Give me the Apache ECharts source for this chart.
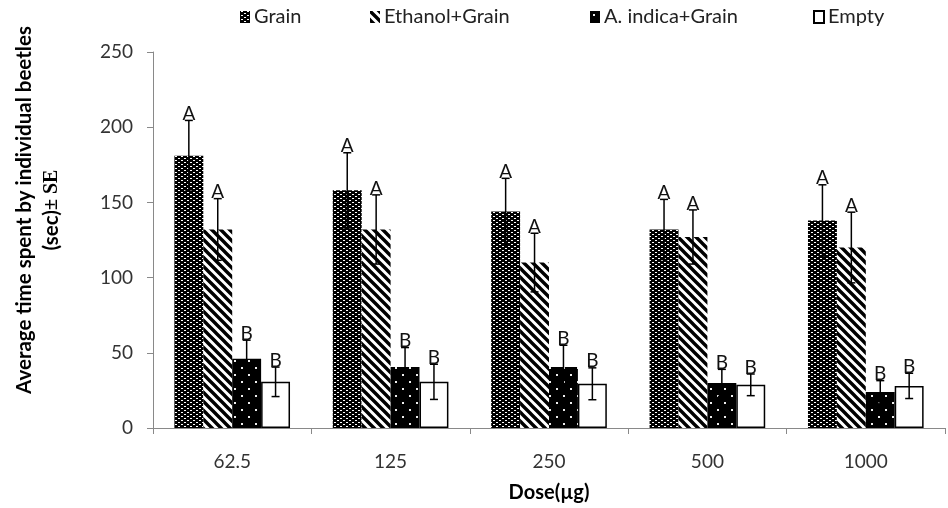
<!DOCTYPE html>
<html>
<head>
<meta charset="utf-8">
<script src="https://cdn.jsdelivr.net/npm/echarts@6/dist/echarts.min.js"></script>
<style>
  html, body { margin: 0; padding: 0; background: #fff; }
  #chart { width: 948px; height: 508px; }
</style>
</head>
<body>
<div id="chart"></div>
<script>
// Doses on the x axis
const doses = ['62.5', '125', '250', '500', '1000'];
const seriesNames = ['Grain', 'Ethanol+Grain', 'A. indica+Grain', 'Empty'];
const yTicks = [0, 50, 100, 150, 200, 250];

// Mean time (sec) and standard error for each treatment
const grain = [181, 158, 144, 132, 138];
const grainSE = [23.5, 25, 22, 20, 23.7];
const ethanolGrain = [132, 132, 110, 127, 120];
const ethanolGrainSE = [20.5, 23, 19.5, 18, 23.5];
const indicaGrain = [46, 40.5, 40.5, 30, 24];
const indicaGrainSE = [12.4, 13, 14.5, 9, 7.5];
const empty = [30.7, 30.7, 29.4, 28.7, 28];
const emptySE = [9.8, 11.7, 10.6, 7.2, 8.4];

// Significance letters shown above the error bars
const grainLetters = ['A', 'A', 'A', 'A', 'A'];
const ethanolGrainLetters = ['A', 'A', 'A', 'A', 'A'];
const indicaGrainLetters = ['B', 'B', 'B', 'B', 'B'];
const emptyLetters = ['B', 'B', 'B', 'B', 'B'];

const CAT_GAP = 0.27;

// ---- fill patterns ----
function tile(w, h, draw) {
  const c = document.createElement('canvas');
  c.width = w; c.height = h;
  draw(c.getContext('2d'));
  return c;
}
const grainTile = tile(6, 4, g => {
  g.fillStyle = '#000'; g.fillRect(0, 0, 6, 4);
  g.fillStyle = '#fff';
  g.fillRect(1, 0, 2, 1);
  g.fillRect(4, 2, 2, 1);
});
const ethanolTile = tile(9, 9, g => {
  g.fillStyle = '#fff'; g.fillRect(0, 0, 9, 9);
  g.strokeStyle = '#000'; g.lineWidth = 3.4;
  g.beginPath();
  [-9, 0, 9].forEach(k => { g.moveTo(k - 2, -2); g.lineTo(k + 11, 11); });
  g.stroke();
});
const indicaTile = tile(14, 14, g => {
  g.fillStyle = '#000'; g.fillRect(0, 0, 14, 14);
  g.fillStyle = '#eee';
  g.fillRect(3, 3, 2, 2);
  g.fillRect(10, 10, 2, 2);
});

const FONT = 'Lato, "Open Sans", sans-serif';

const groups = [
  { name: seriesNames[0], values: grain, se: grainSE, letters: grainLetters,
    itemStyle: { color: { image: grainTile, repeat: 'repeat' } } },
  { name: seriesNames[1], values: ethanolGrain, se: ethanolGrainSE, letters: ethanolGrainLetters,
    itemStyle: { color: { image: ethanolTile, repeat: 'repeat' } } },
  { name: seriesNames[2], values: indicaGrain, se: indicaGrainSE, letters: indicaGrainLetters,
    itemStyle: { color: { image: indicaTile, repeat: 'repeat' } } },
  { name: seriesNames[3], values: empty, se: emptySE, letters: emptyLetters,
    itemStyle: { color: '#fff', borderColor: '#000', borderWidth: 1.5 } }
];

// error bar rows: [category index, mean, se, series index]
const errRows = [];
const errLetters = [];
groups.forEach((s, si) => s.values.forEach((v, ci) => {
  errRows.push([ci, v, s.se[ci], si]);
  errLetters.push(s.letters[ci]);
}));

const barSeries = groups.map(s => ({
  name: s.name,
  type: 'bar',
  data: s.values,
  barGap: '0%',
  barCategoryGap: (CAT_GAP * 100) + '%',
  itemStyle: s.itemStyle,
  emphasis: { disabled: true }
}));

const errorSeries = {
  type: 'custom',
  data: errRows,
  encode: { x: 0, y: 1 },
  z: 10,
  silent: true,
  renderItem(params, api) {
    const ci = api.value(0), v = api.value(1), se = api.value(2), si = api.value(3);
    const catW = api.size([1, 0])[0];
    const bw = catW * (1 - CAT_GAP) / groups.length;
    const cx = api.coord([ci, v])[0] + (si - (groups.length - 1) / 2) * bw;
    const yTop = api.coord([ci, v + se])[1];
    const yBot = api.coord([ci, v - se])[1];
    const cap = 4;
    const ls = { stroke: '#000', lineWidth: 1.5 };
    return {
      type: 'group',
      children: [
        { type: 'line', shape: { x1: cx, y1: yTop, x2: cx, y2: yBot }, style: ls },
        { type: 'line', shape: { x1: cx - cap, y1: yTop, x2: cx + cap, y2: yTop }, style: ls },
        { type: 'line', shape: { x1: cx - cap, y1: yBot, x2: cx + cap, y2: yBot }, style: ls },
        { type: 'text', style: {
            text: errLetters[params.dataIndex], x: cx, y: yTop + 3,
            align: 'center', verticalAlign: 'bottom',
            fontSize: 19, fontFamily: FONT, fill: '#111' } }
      ]
    };
  }
};

// one legend entry per series, placed along the top row
const legendLeft = [240, 370, 590, 813];
const legends = seriesNames.map((n, i) => ({
  data: [n],
  top: 7,
  left: legendLeft[i],
  padding: 0,
  icon: 'rect',
  itemWidth: 10,
  itemHeight: 12,
  textStyle: { fontSize: 20, fontFamily: FONT, color: '#222', padding: [0, 0, 0, -1] },
  selectedMode: false
}));

const chart = echarts.init(document.getElementById('chart'), null, { renderer: 'canvas' });
chart.setOption({
  animation: false,
  backgroundColor: '#fff',
  grid: { left: 153, right: 3, top: 52, bottom: 73 },
  legend: legends,
  xAxis: {
    type: 'category',
    data: doses,
    name: 'Dose(µg)',
    nameLocation: 'middle',
    nameGap: 55,
    nameTextStyle: { fontSize: 20, fontWeight: 'bold', fontFamily: FONT, color: '#000' },
    axisLine: { lineStyle: { color: '#898989', width: 1 } },
    axisTick: { show: true, length: 6, alignWithLabel: false, lineStyle: { color: '#898989' } },
    axisLabel: { margin: 24, fontSize: 19, fontFamily: FONT, color: '#333' }
  },
  yAxis: {
    type: 'value',
    min: yTicks[0],
    max: yTicks[yTicks.length - 1],
    interval: yTicks[1] - yTicks[0],
    splitLine: { show: false },
    axisLine: { show: true, lineStyle: { color: '#898989', width: 1 } },
    axisTick: { show: true, length: 6, lineStyle: { color: '#898989' } },
    axisLabel: { margin: 20, fontSize: 19, fontFamily: FONT, color: '#333' }
  },
  graphic: [{
    type: 'text',
    x: 38,
    y: 210,
    rotation: Math.PI / 2,
    style: {
      text: '{a|Average time spent by individual beetles}\n{a|(sec)}{b|± SE}',
      align: 'center',
      verticalAlign: 'middle',
      fill: '#000',
      rich: {
        a: { fontSize: 20.5, fontWeight: 'bold', fontFamily: FONT, lineHeight: 27, fill: '#000' },
        b: { fontSize: 20, fontWeight: 'bold', fontFamily: '"Liberation Serif", serif', lineHeight: 27, fill: '#000' }
      }
    }
  }],
  series: barSeries.concat([errorSeries])
});
</script>
</body>
</html>
